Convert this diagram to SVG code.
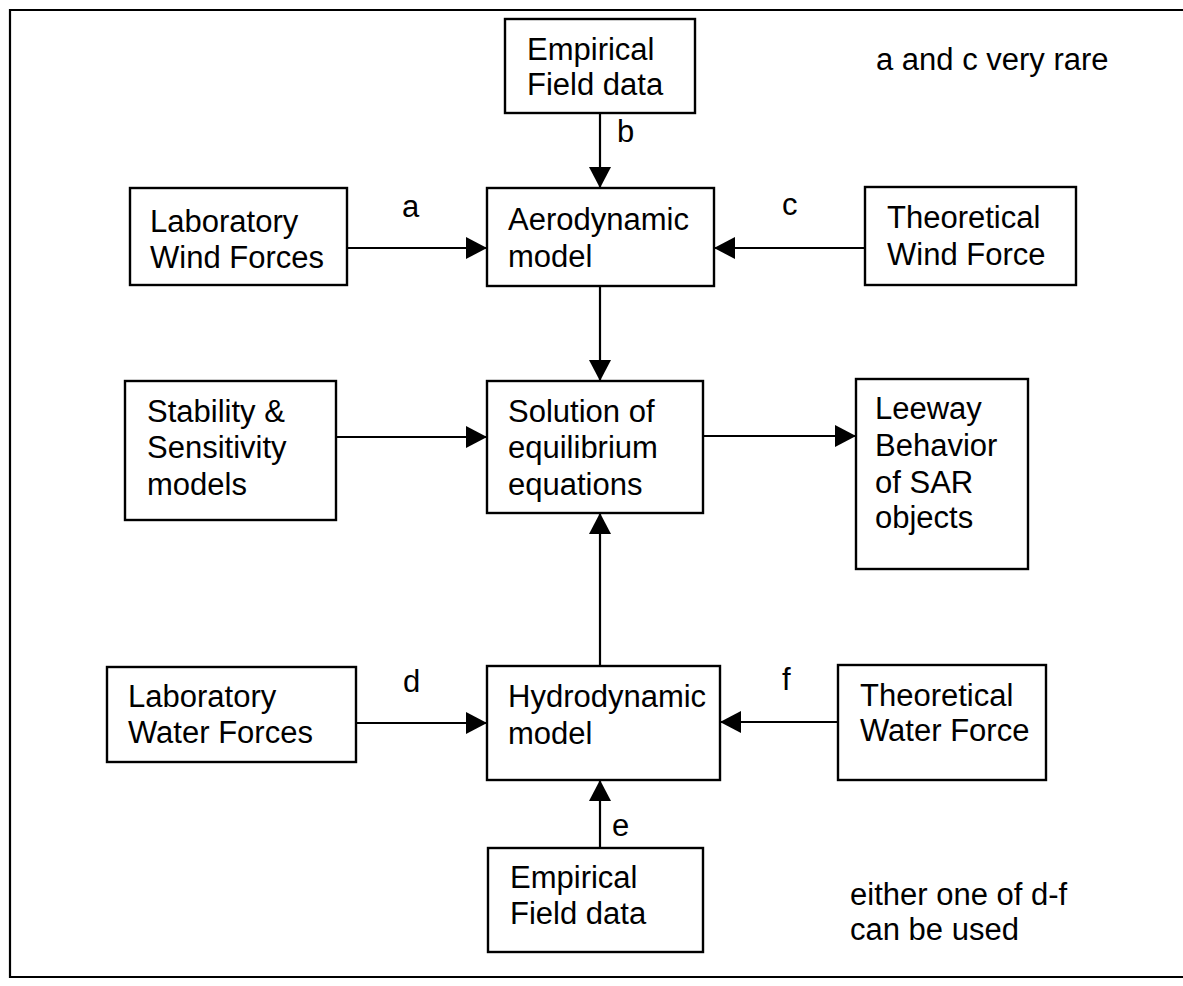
<svg xmlns="http://www.w3.org/2000/svg" width="1183" height="986" viewBox="0 0 1183 986">
<style>
text{font-family:"Liberation Sans",Arial,sans-serif;font-size:31px;fill:#000}
.box{fill:#fff;stroke:#000;stroke-width:2.4}
.ln{fill:none;stroke:#000;stroke-width:2.2}
</style>
<defs>
<marker id="ah" markerUnits="userSpaceOnUse" markerWidth="22" markerHeight="24" refX="21" refY="11" orient="auto" viewBox="0 0 22 22">
<path d="M0,0 L21,11 L0,22 z" fill="#000"/>
</marker>
</defs>
<rect width="1183" height="986" fill="#fff"/>
<path id="frame" class="ln" d="M1183,10 H10 V977 H1183" stroke-width="3"/>
<g id="connectors">
<line class="ln" x1="600" y1="113" x2="600" y2="188" marker-end="url(#ah)"/>
<line class="ln" x1="347" y1="248" x2="487" y2="248" marker-end="url(#ah)"/>
<line class="ln" x1="865" y1="248" x2="714" y2="248" marker-end="url(#ah)"/>
<line class="ln" x1="600" y1="286" x2="600" y2="381" marker-end="url(#ah)"/>
<line class="ln" x1="336" y1="437" x2="487" y2="437" marker-end="url(#ah)"/>
<line class="ln" x1="703" y1="436" x2="856" y2="436" marker-end="url(#ah)"/>
<line class="ln" x1="600" y1="666" x2="600" y2="513" marker-end="url(#ah)"/>
<line class="ln" x1="356" y1="723" x2="487" y2="723" marker-end="url(#ah)"/>
<line class="ln" x1="838" y1="722" x2="720" y2="722" marker-end="url(#ah)"/>
<line class="ln" x1="600" y1="848" x2="600" y2="780" marker-end="url(#ah)"/>
<text x="402" y="217">a</text>
<text x="617" y="142">b</text>
<text x="782" y="215">c</text>
<text x="403" y="692">d</text>
<text x="612" y="836">e</text>
<text x="782" y="690">f</text>
</g>
<g id="empirical-top"><rect class="box" x="505" y="19" width="190" height="94"/><text x="527" y="60">Empirical</text><text x="527" y="95">Field data</text></g>
<g id="note-top"><text x="876" y="70">a and c very rare</text></g>
<g id="lab-wind"><rect class="box" x="130" y="188" width="217" height="97"/><text x="150" y="232">Laboratory</text><text x="150" y="268">Wind Forces</text></g>
<g id="aero"><rect class="box" x="487" y="188" width="227" height="98"/><text x="508" y="230">Aerodynamic</text><text x="508" y="267">model</text></g>
<g id="theo-wind"><rect class="box" x="865" y="187" width="211" height="98"/><text x="887" y="228">Theoretical</text><text x="887" y="265">Wind Force</text></g>
<g id="stability"><rect class="box" x="125" y="381" width="211" height="139"/><text x="147" y="422">Stability &amp;</text><text x="147" y="458">Sensitivity</text><text x="147" y="495">models</text></g>
<g id="solution"><rect class="box" x="487" y="381" width="216" height="132"/><text x="508" y="422">Solution of</text><text x="508" y="458">equilibrium</text><text x="508" y="495">equations</text></g>
<g id="leeway"><rect class="box" x="856" y="379" width="172" height="190"/><text x="875" y="419">Leeway</text><text x="875" y="456">Behavior</text><text x="875" y="493">of SAR</text><text x="875" y="528">objects</text></g>
<g id="lab-water"><rect class="box" x="107" y="667" width="249" height="95"/><text x="128" y="707">Laboratory</text><text x="128" y="743">Water Forces</text></g>
<g id="hydro"><rect class="box" x="487" y="666" width="233" height="114"/><text x="508" y="707">Hydrodynamic</text><text x="508" y="744">model</text></g>
<g id="theo-water"><rect class="box" x="838" y="665" width="208" height="115"/><text x="860" y="706">Theoretical</text><text x="860" y="741">Water Force</text></g>
<g id="empirical-bottom"><rect class="box" x="488" y="848" width="215" height="104"/><text x="510" y="888">Empirical</text><text x="510" y="924">Field data</text></g>
<g id="note-bottom"><text x="850" y="905">either one of d-f</text><text x="850" y="940">can be used</text></g>
</svg>
